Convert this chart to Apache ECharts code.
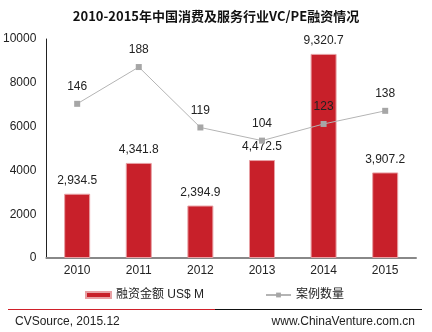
<!DOCTYPE html>
<html><head><meta charset="utf-8">
<script src="https://cdn.jsdelivr.net/npm/echarts@6/dist/echarts.min.js"></script>
<style>html,body{margin:0;padding:0;background:#fff}#c{width:432px;height:332px}</style>
</head><body><div id="c"></div>
<script>
const years = ['2010','2011','2012','2013','2014','2015'];
const amounts = [2934.5, 4341.8, 2394.9, 4472.5, 9320.7, 3907.2];
const cases = [146, 188, 119, 104, 123, 138];
const yTicks = [0, 2000, 4000, 6000, 8000, 10000];
const barName = '融资金额 US$ M';
const lineName = '案例数量';
const FONT = '"Liberation Sans", Arial, "Noto Sans CJK SC", sans-serif';
const chart = echarts.init(document.getElementById('c'));
chart.setOption({
  animation: false,
  textStyle: {fontFamily: FONT},
  title: {
    text: '2010-2015年中国消费及服务行业VC/PE融资情况',
    left: 'center', top: 5,
    textStyle: {fontFamily: '"Noto Sans CJK SC", sans-serif', fontSize: 13, fontWeight: 'bold', color: '#111'}
  },
  grid: {left: 45, right: 16, top: 39, bottom: 74},
  legend: [
    {data: [{name: barName, icon: 'rect'}], left: 85, top: 289, padding: 0, itemWidth: 25, itemHeight: 6, itemGap: 4,
     textStyle: {fontSize: 12, color: '#222', fontFamily: FONT}},
    {data: [lineName], left: 265, top: 289, padding: 0, itemWidth: 25, itemHeight: 6,
     textStyle: {fontSize: 12, color: '#222', fontFamily: FONT}}
  ],
  xAxis: {
    type: 'category', data: years,
    axisLine: {lineStyle: {color: '#888', width: 2}},
    axisTick: {show: false},
    axisLabel: {color: '#222', fontSize: 12, margin: 7}
  },
  yAxis: [
    {type: 'value', min: yTicks[0], max: yTicks[yTicks.length - 1], interval: yTicks[1] - yTicks[0],
     axisLine: {show: true, lineStyle: {color: '#222', width: 1}},
     axisTick: {show: false},
     splitLine: {show: false},
     axisLabel: {color: '#222', fontSize: 12, margin: 10, formatter: v => String(v)}},
    {type: 'value', min: -30, max: 220, show: false, splitLine: {show: false}}
  ],
  series: [
    {name: barName, type: 'bar', data: amounts, barWidth: 26,
     itemStyle: {color: '#C8202A', borderColor: '#E8A0A4', borderWidth: 1},
     label: {show: true, position: 'top', distance: 7, color: '#222', fontSize: 12,
       formatter: p => p.value.toLocaleString('en-US', {minimumFractionDigits: 1, maximumFractionDigits: 1})}},
    {name: lineName, type: 'line', yAxisIndex: 1, data: cases,
     symbol: 'rect', symbolSize: 6,
     lineStyle: {color: '#B4B4B4', width: 1},
     itemStyle: {color: '#A6A6A6'},
     label: {show: true, position: 'top', distance: 8, color: '#222', fontSize: 12}}
  ],
  graphic: [
    {type: 'line', shape: {x1: 8, y1: 309.5, x2: 215, y2: 309.5}, style: {stroke: '#D0202A', lineWidth: 1}},
    {type: 'line', shape: {x1: 215, y1: 309.5, x2: 422, y2: 309.5}, style: {stroke: '#111', lineWidth: 1}},
    {type: 'text', left: 15, top: 316, style: {text: 'CVSource, 2015.12', fontSize: 12, fill: '#222', fontFamily: FONT}},
    {type: 'text', right: 17, top: 316, style: {text: 'www.ChinaVenture.com.cn', fontSize: 12, fill: '#222', fontFamily: FONT}}
  ]
});
</script></body></html>
